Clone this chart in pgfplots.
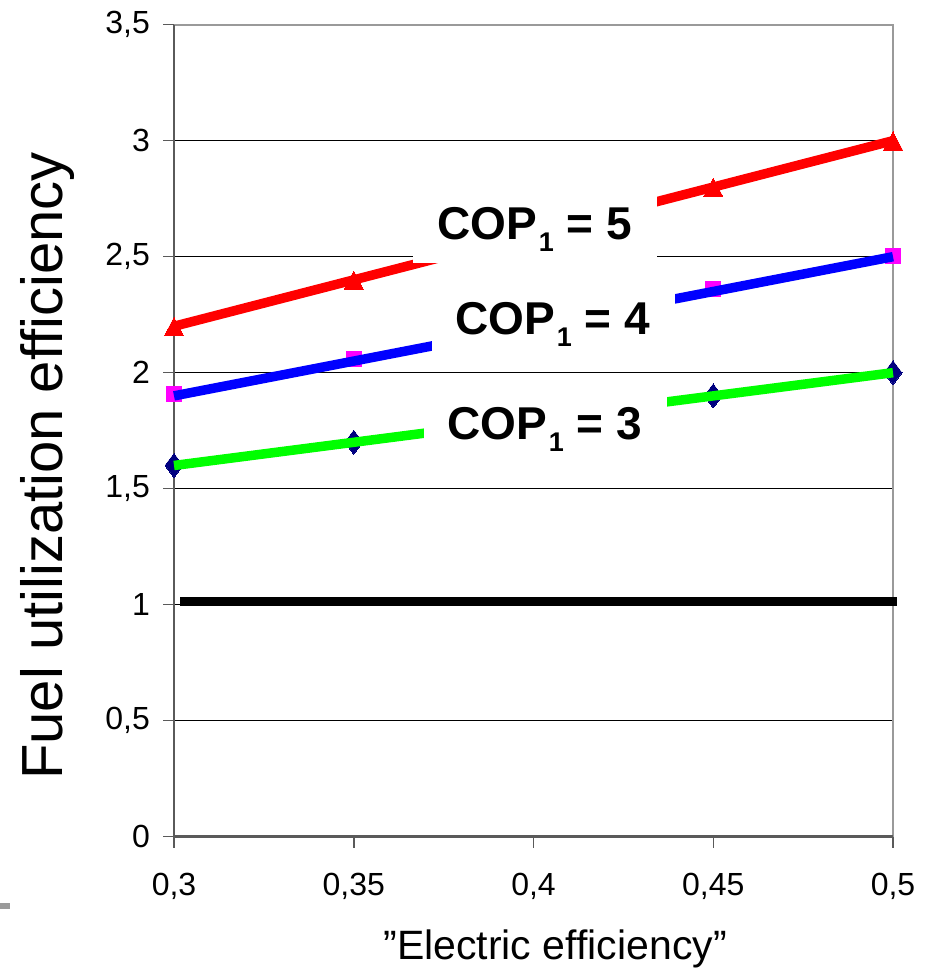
\documentclass[border=0pt]{standalone}
\usepackage{fontspec}
\setmainfont{Liberation Sans}
\usepackage{pgfplots}
\pgfplotsset{compat=1.18}
\definecolor{axdark}{RGB}{90,90,90}
\definecolor{axlight}{RGB}{154,154,154}
\definecolor{cred}{RGB}{255,0,0}
\definecolor{cblue}{RGB}{0,0,255}
\definecolor{cgreen}{RGB}{0,255,0}
\definecolor{cmag}{RGB}{255,0,255}
\definecolor{cnavy}{RGB}{0,0,128}
\pgfplotsset{
  base/.style={
    at={(174pt,131.3pt)}, anchor=south west,
    scale only axis, width=719pt, height=812pt,
    xmin=0.3, xmax=0.5, ymin=0, ymax=3.5,
    clip=false,
  }
}
\begin{document}
\begin{tikzpicture}[x=1pt,y=1pt]
\path[use as bounding box] (0,0) rectangle (934,968);
\fill[axlight] (0,59) rectangle (10,65);
% axis 1: frame, grid, ticks, labels and the markers
\begin{axis}[
  base,
  axis line style={draw=none},
  xtick={0.3,0.35,0.4,0.45,0.5},
  ytick={0,0.5,1,1.5,2,2.5,3,3.5},
  tick pos=left, tick align=outside,
  major tick length=11pt,
  tick style={draw=axdark, line width=1.5pt},
  ymajorgrids, major grid style={black, line width=1.1pt},
  /pgf/number format/.cd, use comma, assume math mode=true,
  /pgfplots/.cd,
  tick label style={font=\fontsize{32}{32}\selectfont, inner sep=0pt},
  xticklabel style={anchor=base, yshift=-48pt},
  yticklabel style={anchor=east, xshift=-13pt},
  xlabel={”Electric efficiency”},
  ylabel={Fuel utilization efficiency},
  xlabel style={at={(axis description cs:0.53,-0.1518)}, anchor=base, font=\fontsize{41}{41}\selectfont},
  ylabel style={at={(axis description cs:-0.1544,0.4565)}, anchor=base, font=\fontsize{58}{58}\selectfont},
]
\draw[axlight, line width=2pt] (rel axis cs:0,1) -- (rel axis cs:1,1) -- (rel axis cs:1,0);
\draw[axdark, line width=2.5pt] (rel axis cs:0,1) -- (rel axis cs:0,0) -- (rel axis cs:1,0);
\addplot[cred, only marks, mark=triangle*, mark size=11pt, mark options={solid, fill=cred, draw=cred, line width=0pt, yscale=1.1, yshift=-3pt}]
  coordinates {(0.3,2.2) (0.35,2.4) (0.4,2.6) (0.45,2.8) (0.5,3.0)};
\addplot[cmag, only marks, mark=square*, mark size=7.5pt, mark options={solid, fill=cmag, draw=cmag, line width=0pt}]
  coordinates {(0.3,1.91) (0.35,2.06) (0.4,2.21) (0.45,2.36) (0.5,2.505)};
\addplot[cnavy, only marks, mark=diamond*, mark size=12pt, mark options={solid, fill=cnavy, draw=cnavy, line width=0pt, xscale=1.0}]
  coordinates {(0.3,1.6) (0.35,1.7) (0.4,1.8) (0.45,1.9) (0.5,2.0)};
\end{axis}
% axis 2: the lines and the labels, on top
\begin{axis}[base, hide axis]
\addplot[cred, line width=9.5pt, no marks] coordinates {(0.3,2.2) (0.35,2.4) (0.4,2.6) (0.45,2.8) (0.5,3.0)};
\addplot[cblue, line width=9.5pt, no marks] coordinates {(0.3,1.9) (0.35,2.05) (0.4,2.2) (0.45,2.35) (0.5,2.5)};
\addplot[cgreen, line width=9.5pt, no marks] coordinates {(0.3,1.6) (0.35,1.7) (0.4,1.8) (0.45,1.9) (0.5,2.0)};
\addplot[black, line width=9pt, no marks] coordinates {(0.3017,1.015) (0.5011,1.015)};
\node[fill=white, inner sep=0pt, minimum width=244pt, minimum height=70pt] at (axis cs:0.4004,2.624) {};
\node[fill=white, inner sep=0pt, minimum width=243pt, minimum height=70pt] at (axis cs:0.4056,2.2185) {};
\node[fill=white, inner sep=0pt, minimum width=243pt, minimum height=70pt] at (axis cs:0.4033,1.779) {};
\node[anchor=base, inner sep=0pt, font=\fontsize{46}{46}\selectfont\bfseries] at (axis cs:0.40028,2.572) {COP\kern2pt\raisebox{-12pt}{\fontsize{27}{27}\selectfont 1} = 5};
\node[anchor=base, inner sep=0pt, font=\fontsize{46}{46}\selectfont\bfseries] at (axis cs:0.40529,2.1625) {COP\kern2pt\raisebox{-12pt}{\fontsize{27}{27}\selectfont 1} = 4};
\node[anchor=base, inner sep=0pt, font=\fontsize{46}{46}\selectfont\bfseries] at (axis cs:0.40306,1.710) {COP\kern2pt\raisebox{-12pt}{\fontsize{27}{27}\selectfont 1} = 3};
\end{axis}
\end{tikzpicture}
\end{document}
